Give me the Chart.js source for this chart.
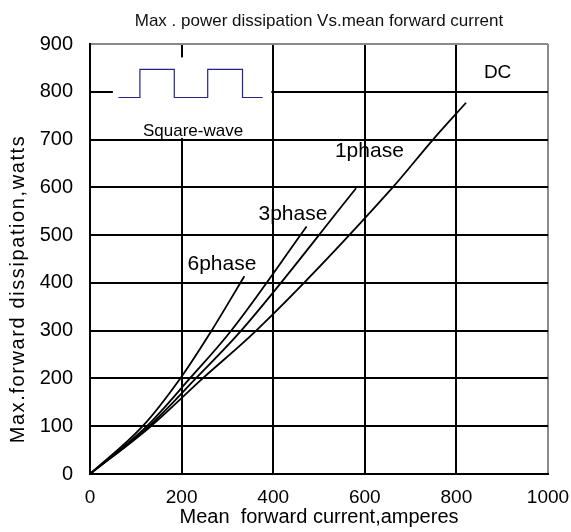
<!DOCTYPE html>
<html>
<head>
<meta charset="utf-8">
<script src="https://cdn.jsdelivr.net/npm/chart.js@4/dist/chart.umd.min.js"></script>
<style>
  html, body { margin: 0; padding: 0; background: #fff; }
  canvas { display: block; }
</style>
</head>
<body>
<canvas id="chart" width="571" height="532"></canvas>
<script>
// curves (x = amperes, y = watts)
const dcX = [0, 133, 246, 364, 661, 749, 821];
const dcY = [0, 100, 200, 301, 600, 700, 777];
const onePhaseX = [0, 129, 231, 331, 581];
const onePhaseY = [0, 100, 200, 301, 598];
const threePhaseX = [0, 124, 218, 309, 473];
const threePhaseY = [0, 100, 200, 301, 518];
const sixPhaseX = [0, 115, 197, 266, 337];
const sixPhaseY = [0, 100, 200, 301, 414];

// the little square-wave sketch in the top left corner
const waveX = [62, 109, 109, 184, 184, 257, 257, 333, 333, 377];
const waveY = [788, 788, 847, 847, 788, 788, 847, 847, 788, 788];

const xTicks = [0, 200, 400, 600, 800, 1000];
const yTicks = [0, 100, 200, 300, 400, 500, 600, 700, 800, 900];

// curve names and where their text sits (baseline centre, in data units)
const curveNames = ["DC", "1phase", "3phase", "6phase"];
const nameX = [890, 610, 443, 288];
const nameY = [828, 664, 532, 427];

const FONT = "'Liberation Sans', Arial, sans-serif";

function pts(xs, ys) {
  return xs.map((x, i) => ({ x: x, y: ys[i] }));
}

function curve(label, xs, ys) {
  return {
    label: label,
    data: pts(xs, ys),
    borderColor: "#000",
    borderWidth: 1.8,
    pointRadius: 0,
    cubicInterpolationMode: "monotone",
    fill: false
  };
}

// white patch behind the inset, then the texts
const insetPlugin = {
  id: "inset",
  beforeDatasetsDraw(chart) {
    const { ctx, scales: { x, y } } = chart;
    const left = x.getPixelForValue(50), right = x.getPixelForValue(396);
    const top = y.getPixelForValue(872), bottom = y.getPixelForValue(703);
    ctx.save();
    ctx.fillStyle = "#fff";
    ctx.fillRect(left, top, right - left, bottom - top);
    ctx.restore();
  },
  afterDatasetsDraw(chart) {
    const { ctx, scales: { x, y }, chartArea } = chart;
    ctx.save();
    ctx.fillStyle = "#000";
    ctx.textAlign = "center";
    ctx.textBaseline = "alphabetic";
    curveNames.forEach((name, i) => {
      ctx.font = (name === "DC" ? "19px " : "21px ") + FONT;
      ctx.fillText(name, x.getPixelForValue(nameX[i]), y.getPixelForValue(nameY[i]));
    });
    ctx.font = "17px " + FONT;
    ctx.fillText("Square-wave", x.getPixelForValue(225), y.getPixelForValue(708));

    // y axis title, sits a bit below the middle in the original
    ctx.translate(chartArea.left - 71.5, (chartArea.top + chartArea.bottom) / 2 + 30);
    ctx.rotate(-Math.PI / 2);
    ctx.font = "20px " + FONT;
    ctx.letterSpacing = "1.6px";
    ctx.textBaseline = "middle";
    ctx.fillText("Max.forward dissipation,watts", 0, 0);
    ctx.restore();
  }
};

new Chart(document.getElementById("chart"), {
  type: "line",
  data: {
    datasets: [
      curve("DC", dcX, dcY),
      curve("1phase", onePhaseX, onePhaseY),
      curve("3phase", threePhaseX, threePhaseY),
      curve("6phase", sixPhaseX, sixPhaseY),
      {
        label: "Square-wave",
        data: pts(waveX, waveY),
        borderColor: "#23238a",
        borderWidth: 1.2,
        pointRadius: 0,
        tension: 0,
        fill: false
      }
    ]
  },
  options: {
    responsive: false,
    devicePixelRatio: 1,
    animation: false,
    layout: { padding: { top: 0, right: 23, bottom: 0, left: 0 } },
    plugins: {
      legend: { display: false },
      tooltip: { enabled: false },
      title: {
        display: true,
        fullSize: false,
        text: "Max . power dissipation Vs.mean forward current",
        color: "#111",
        font: { family: FONT, size: 17, weight: "normal" },
        padding: { top: 11, bottom: 12.6 }
      }
    },
    scales: {
      x: {
        type: "linear",
        min: 0,
        max: 1000,
        afterBuildTicks: s => { s.ticks = xTicks.map(v => ({ value: v })); },
        afterFit: s => {
          s.height = 58;
          s.paddingLeft = 0;
          s.paddingRight = 0;
        },
        grid: {
          color: c => (c.tick && c.tick.value === 1000 ? "#8a8a8a" : "#000"),
          lineWidth: 2,
          drawTicks: false
        },
        border: { color: "#000", width: 2 },
        ticks: {
          padding: 12,
          color: "#000",
          font: { family: FONT, size: 19 },
          callback: v => String(v)
        },
        title: {
          display: true,
          text: "Mean  forward current,amperes",
          color: "#000",
          font: { family: FONT, size: 20 },
          padding: { top: 0, bottom: 3 }
        }
      },
      y: {
        type: "linear",
        min: 0,
        max: 900,
        afterBuildTicks: s => { s.ticks = yTicks.map(v => ({ value: v })); },
        afterFit: s => { s.width = 90; },
        grid: {
          color: c => (c.tick && c.tick.value === 900 ? "#8a8a8a" : "#000"),
          lineWidth: 2,
          drawTicks: false
        },
        border: { color: "#000", width: 2 },
        ticks: {
          padding: 17,
          color: "#000",
          font: { family: FONT, size: 20 },
          callback: v => String(v)
        }
      }
    }
  },
  plugins: [insetPlugin]
});
</script>
</body>
</html>
